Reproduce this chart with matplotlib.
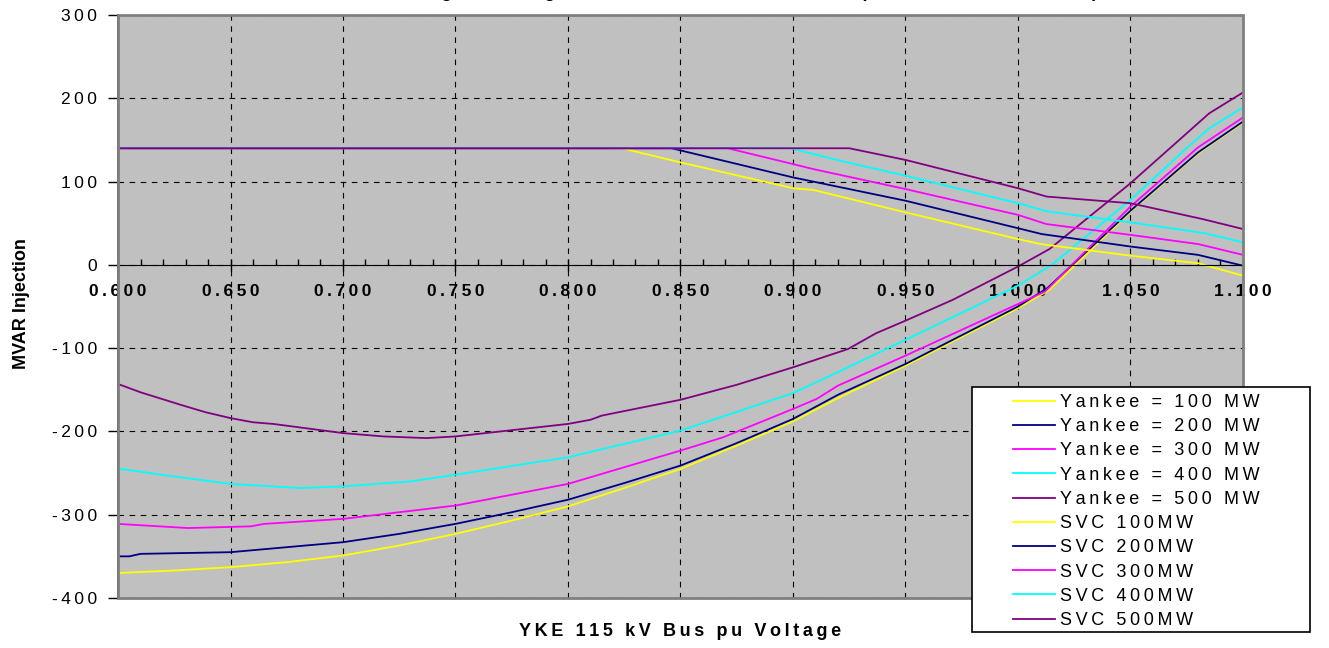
import numpy as np
import matplotlib
matplotlib.use("Agg")
import matplotlib.pyplot as plt
from matplotlib.patches import Rectangle

plt.rcParams['font.family'] = ['Liberation Sans', 'DejaVu Sans']

# Q-V curves at Yankee bus (pu voltage, MVAR)
v_y100 = [0.600, 0.625, 0.650, 0.675, 0.700, 0.725, 0.750, 0.775, 0.800, 0.825, 0.850, 0.875, 0.900, 0.920, 0.950, 1.000, 1.014, 1.050, 1.080, 1.100]
q_y100 = [-370, -367, -363, -357, -349, -337, -323, -307, -290, -268, -245, -217, -188, -160, -121, -52, -30, 64, 134, 171]

v_y200 = [0.600, 0.605, 0.610, 0.650, 0.700, 0.725, 0.750, 0.775, 0.800, 0.825, 0.850, 0.875, 0.900, 0.920, 0.950, 1.000, 1.013, 1.050, 1.080, 1.100]
q_y200 = [-350, -350, -347, -345, -333, -323, -311, -297, -282, -262, -241, -214, -185, -156, -119, -50, -28, 65, 135, 172]

v_y300 = [0.600, 0.631, 0.659, 0.665, 0.700, 0.750, 0.800, 0.850, 0.869, 0.900, 0.9105, 0.920, 0.950, 1.000, 1.012, 1.050, 1.080, 1.100]
q_y300 = [-311, -316, -314, -311, -305, -289, -263, -223, -207, -173, -161, -145, -109, -47, -32, 70, 141, 177]

v_y400 = [0.600, 0.604, 0.622, 0.650, 0.681, 0.700, 0.730, 0.750, 0.800, 0.850, 0.900, 0.919, 0.950, 1.000, 1.015, 1.050, 1.074, 1.085, 1.100]
q_y400 = [-245, -246, -253, -263, -268, -266, -260, -252, -231, -199, -154, -130, -90, -25, 0, 78, 138, 164, 189]

v_y500 = [0.600, 0.610, 0.629, 0.639, 0.650, 0.660, 0.669, 0.700, 0.718, 0.737, 0.750, 0.770, 0.800, 0.810, 0.815, 0.850, 0.875, 0.900, 0.9245, 0.937, 0.950, 0.971, 1.000, 1.014, 1.050, 1.085, 1.100]
q_y500 = [-143, -153, -169, -177, -184, -189, -191, -202, -206, -208, -206, -200, -191, -186, -181, -162, -144, -123, -101, -82, -67, -42, -2, 19, 98, 182, 207]

# SVC output curves
v_s100 = [0.600, 0.824, 0.850, 0.900, 0.909, 0.950, 1.000, 1.010, 1.050, 1.080, 1.100]
q_s100 = [140, 140, 123, 92, 90, 63, 31, 25, 11, 2, -13]

v_s200 = [0.600, 0.846, 0.900, 0.950, 1.000, 1.0105, 1.050, 1.080, 1.100]
q_s200 = [140, 140, 105, 77, 44, 37, 22, 12, -1]

v_s300 = [0.600, 0.871, 0.900, 0.909, 0.950, 1.000, 1.0126, 1.050, 1.080, 1.100]
q_s300 = [140, 140, 121, 115, 91, 60, 49, 36, 25, 12]

v_s400 = [0.600, 0.899, 0.921, 0.950, 1.000, 1.0133, 1.050, 1.083, 1.100]
q_s400 = [140, 140, 125, 107, 74, 64, 51, 38, 27]

v_s500 = [0.600, 0.925, 0.950, 1.000, 1.0127, 1.050, 1.082, 1.100]
q_s500 = [140, 140, 126, 92, 82, 74, 55, 43]

labels = ["Yankee = 100 MW", "Yankee = 200 MW", "Yankee = 300 MW", "Yankee = 400 MW", "Yankee = 500 MW",
          "SVC 100MW", "SVC 200MW", "SVC 300MW", "SVC 400MW", "SVC 500MW"]
colors = ["#FFFF00", "#000080", "#FF00FF", "#00FFFF", "#800080"] * 2

series = [(v_y100, q_y100), (v_y200, q_y200), (v_y300, q_y300), (v_y400, q_y400), (v_y500, q_y500),
          (v_s100, q_s100), (v_s200, q_s200), (v_s300, q_s300), (v_s400, q_s400), (v_s500, q_s500)]


def spaced(s):
    # excel-ish letter spacing
    return "\u2009".join(s)


W, H = 1329, 648
fig = plt.figure(figsize=(W / 100, H / 100), dpi=100)
ax = fig.add_axes([118 / W, 50 / H, 1125 / W, 583 / H])
ax.set_facecolor("#C0C0C0")

handles = []
for (v, q), c, lab in zip(series, colors, labels):
    h, = ax.plot(v, q, color=c, lw=1.3, label=lab)
    handles.append(h)

ax.set_xlim(0.6, 1.1)
ax.set_ylim(-400, 300)

ax.spines["bottom"].set_position(("data", 0))
ax.spines["bottom"].set_color("black")
ax.spines["left"].set_color("black")
ax.spines["left"].set_linewidth(1.2)
ax.spines["top"].set_visible(False)
ax.spines["right"].set_visible(False)
ax.tick_params(axis="x", which="major", direction="inout", length=8, pad=10, width=1, labelsize=12.5)
ax.tick_params(axis="x", which="minor", direction="in", length=4, width=1)
ax.tick_params(axis="y", which="major", direction="out", length=7, pad=8, width=1, labelsize=12.5)

xt = np.round(np.arange(0.6, 1.1001, 0.05), 3)
ax.set_xticks(xt)
ax.set_xticklabels([spaced("%.3f" % t) for t in xt])
ax.set_xticks(np.round(np.arange(0.6, 1.1001, 0.01), 3), minor=True)
yt = np.arange(-400, 301, 100)
ax.set_yticks(yt)
ax.set_yticklabels([spaced(str(t)) for t in yt])
for t in ax.get_xticklabels():
    t.set_fontweight("bold")

ax.grid(True, which="major", color="black", linestyle=(0, (5, 5)), lw=0.8)
ax.set_axisbelow(True)

# grey plot-area border
ax.add_patch(Rectangle((0, 0), 1, 1, transform=ax.transAxes, fill=False,
                       edgecolor="#808080", lw=2, zorder=3, clip_on=False))

fig.text(22 / W, 1 - 304 / H, "MVAR Injection", rotation=90, ha="center", va="center",
         fontsize=13, fontweight="bold")
fig.text(680 / W, 1 - 632 / H, spaced("YKE 115 kV Bus pu Voltage"), ha="center", va="center",
         fontsize=13, fontweight="bold")
# title sits mostly above the top edge, as in the source
fig.text(714 / W, 1 + 3 / H, "Reactive Margin and Range of the Unit and SVC Under Stress (@ Various Unit MW Levels)",
         ha="center", va="baseline", fontsize=13, fontweight="bold")

box = Rectangle((972 / W, 1 - 632 / H), 338 / W, 245 / H, transform=fig.transFigure,
                facecolor="white", edgecolor="black", lw=1.2, zorder=5)
fig.patches.append(box)
leg = fig.legend(handles, [spaced(l) for l in labels], loc="upper left",
                 bbox_to_anchor=(1013 / W, 1 - 394 / H), frameon=False, fontsize=13,
                 handlelength=2.3, handletextpad=0.3, labelspacing=0.40,
                 borderpad=0, borderaxespad=0)
leg.set_zorder(6)

fig.savefig("out.png", dpi=100)
